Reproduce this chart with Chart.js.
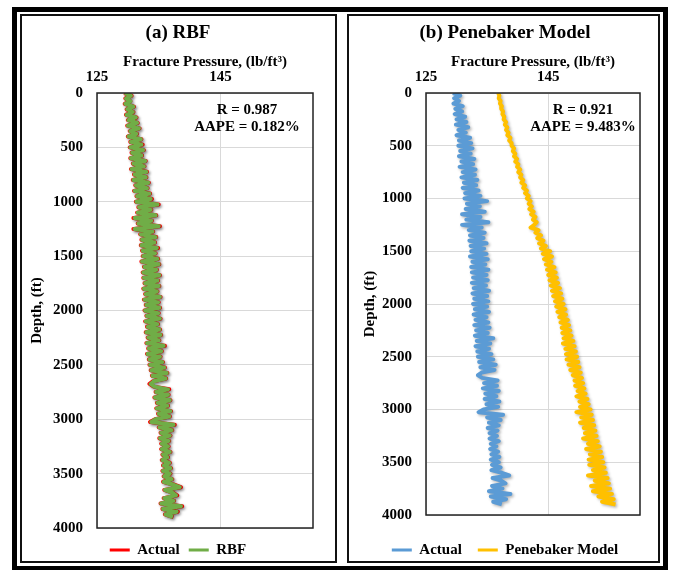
<!DOCTYPE html>
<html>
<head>
<meta charset="utf-8">
<script src="https://cdn.jsdelivr.net/npm/chart.js@4.4.1/dist/chart.umd.min.js"></script>
<style>
  html, body { margin: 0; padding: 0; background: #fff; width: 673px; height: 570px; overflow: hidden; }
  .frame { position: absolute; box-sizing: border-box; pointer-events: none; }
  #outer { left: 12px; top: 7px; width: 656px; height: 564px; border: 5px solid #000; }
  #boxA { left: 20px; top: 14px; width: 317px; height: 549px; border: 2px solid #111; }
  #boxB { left: 347px; top: 14px; width: 313px; height: 549px; border: 2px solid #111; }
  canvas { position: absolute; top: 0; }
  #chartA { left: 20px; }
  #chartB { left: 348px; }
</style>
</head>
<body>
<canvas id="chartA" width="316" height="570"></canvas>
<canvas id="chartB" width="311" height="570"></canvas>
<div class="frame" id="outer"></div>
<div class="frame" id="boxA"></div>
<div class="frame" id="boxB"></div>
<script>
Chart.defaults.font.family = "'Liberation Serif', 'Times New Roman', serif";
Chart.defaults.font.weight = 'bold';
Chart.defaults.color = '#000';

// depth, ft (one row = 250 ft)
var depth = [
  0, 25, 50, 75, 100, 125, 150, 175, 200, 225,
  250, 275, 300, 325, 350, 375, 400, 425, 450, 475,
  500, 525, 550, 575, 600, 625, 650, 675, 700, 725,
  750, 775, 800, 825, 850, 875, 900, 925, 950, 975,
  1000, 1025, 1050, 1075, 1100, 1125, 1150, 1175, 1200, 1225,
  1250, 1275, 1300, 1325, 1350, 1375, 1400, 1425, 1450, 1475,
  1500, 1525, 1550, 1575, 1600, 1625, 1650, 1675, 1700, 1725,
  1750, 1775, 1800, 1825, 1850, 1875, 1900, 1925, 1950, 1975,
  2000, 2025, 2050, 2075, 2100, 2125, 2150, 2175, 2200, 2225,
  2250, 2275, 2300, 2325, 2350, 2375, 2400, 2425, 2450, 2475,
  2500, 2525, 2550, 2575, 2600, 2625, 2650, 2675, 2700, 2725,
  2750, 2775, 2800, 2825, 2850, 2875, 2900, 2925, 2950, 2975,
  3000, 3025, 3050, 3075, 3100, 3125, 3150, 3175, 3200, 3225,
  3250, 3275, 3300, 3325, 3350, 3375, 3400, 3425, 3450, 3475,
  3500, 3525, 3550, 3575, 3600, 3625, 3650, 3675, 3700, 3725,
  3750, 3775, 3800, 3825, 3850, 3875, 3900
];
// fracture pressure, lb/ft3
var actual = [
  129.4, 130.6, 129.6, 130.4, 129.5, 131.0, 129.8, 130.9, 129.7, 131.4,
  130.0, 131.6, 129.9, 131.9, 130.3, 131.5, 130.0, 132.2, 130.4, 132.4,
  130.3, 132.6, 130.6, 132.3, 130.4, 132.9, 130.8, 132.7, 130.5, 133.1,
  131.0, 133.0, 130.8, 133.4, 131.2, 133.2, 131.0, 133.6, 131.4, 133.9,
  131.3, 135.0, 131.7, 133.8, 131.5, 134.6, 130.9, 133.9, 131.6, 135.2,
  130.9, 134.1, 132.0, 134.6, 132.2, 134.4, 132.1, 134.9, 132.3, 134.5,
  132.4, 134.9, 132.2, 135.1, 132.6, 134.7, 132.4, 135.2, 132.5, 134.9,
  132.7, 135.1, 132.5, 134.8, 132.8, 135.3, 132.6, 135.0, 132.9, 135.2,
  132.7, 135.0, 133.0, 135.3, 132.8, 134.9, 133.1, 135.2, 132.9, 135.4,
  133.2, 135.1, 133.0, 136.0, 133.3, 135.5, 133.1, 135.3, 133.4, 135.7,
  133.5, 136.0, 133.7, 136.4, 133.9, 136.2, 134.1, 133.5, 134.2, 136.7,
  134.5, 136.6, 134.3, 136.9, 134.7, 136.5, 134.6, 137.0, 134.9, 136.8,
  134.4, 133.6, 137.6, 135.0, 137.2, 135.3, 136.9, 135.1, 136.7, 135.4,
  136.6, 135.4, 136.9, 135.6, 136.5, 135.5, 136.8, 135.7, 137.0, 135.6,
  136.9, 135.8, 137.2, 135.7, 137.4, 138.6, 135.9, 137.3, 138.0, 135.8,
  137.5, 135.3, 138.8, 135.6, 138.1, 136.0, 137.4
];
var rbf = [
  129.5, 130.5, 129.7, 130.4, 129.6, 130.9, 129.9, 130.8, 129.8, 131.3,
  130.1, 131.5, 130.0, 131.8, 130.4, 131.4, 130.1, 132.1, 130.5, 132.2,
  130.4, 132.5, 130.7, 132.2, 130.5, 132.8, 130.9, 132.6, 130.6, 133.0,
  131.1, 132.9, 130.9, 133.3, 131.3, 133.1, 131.1, 133.5, 131.5, 133.7,
  131.4, 134.8, 131.8, 133.7, 131.6, 134.5, 131.1, 133.8, 131.7, 135.0,
  131.1, 134.0, 132.1, 134.5, 132.3, 134.3, 132.2, 134.7, 132.4, 134.4,
  132.5, 134.8, 132.3, 135.0, 132.7, 134.6, 132.5, 135.1, 132.6, 134.8,
  132.8, 135.0, 132.6, 134.7, 132.9, 135.2, 132.7, 134.9, 133.0, 135.1,
  132.8, 134.9, 133.1, 135.2, 132.9, 134.8, 133.2, 135.1, 133.0, 135.3,
  133.3, 135.0, 133.1, 135.8, 133.4, 135.4, 133.2, 135.2, 133.5, 135.6,
  133.6, 135.9, 133.8, 136.3, 134.0, 136.1, 134.2, 133.7, 134.3, 136.5,
  134.6, 136.5, 134.4, 136.8, 134.8, 136.4, 134.7, 136.9, 135.0, 136.7,
  134.5, 133.8, 137.4, 135.1, 137.1, 135.4, 136.8, 135.2, 136.6, 135.5,
  136.5, 135.5, 136.8, 135.7, 136.4, 135.6, 136.7, 135.8, 136.9, 135.7,
  136.8, 135.9, 137.1, 135.8, 137.3, 138.4, 136.0, 137.2, 137.8, 135.9,
  137.4, 135.4, 138.6, 135.7, 137.9, 136.1, 137.3
];
var penebaker = [
  136.8, 137.0, 136.9, 137.2, 137.1, 137.4, 137.3, 137.6, 137.5, 137.8,
  137.7, 138.1, 137.9, 138.3, 138.1, 138.5, 138.3, 138.8, 138.6, 139.0,
  139.0, 139.4, 139.2, 139.6, 139.4, 139.9, 139.6, 140.1, 139.9, 140.4,
  140.1, 140.6, 140.4, 140.9, 140.6, 141.2, 140.9, 141.5, 141.2, 141.8,
  141.5, 142.1, 141.8, 142.3, 141.9, 142.6, 142.2, 142.9, 142.5, 143.1,
  142.7, 142.1, 143.4, 142.9, 143.8, 143.2, 144.2, 143.5, 144.6, 143.8,
  145.3, 144.1, 145.6, 144.3, 145.5, 144.6, 146.0, 144.8, 146.2, 145.0,
  146.4, 145.2, 146.6, 145.4, 146.9, 145.6, 147.1, 145.8, 147.3, 146.1,
  147.5, 146.3, 147.8, 146.5, 147.9, 146.8, 148.2, 147.0, 148.4, 147.2,
  148.6, 147.3, 148.8, 147.5, 149.1, 147.4, 149.3, 147.8, 149.5, 147.9,
  149.7, 148.0, 149.9, 148.3, 150.1, 148.6, 150.3, 149.0, 150.5, 149.3,
  150.7, 149.4, 150.9, 149.8, 151.1, 149.6, 151.4, 150.1, 151.6, 150.2,
  151.9, 149.6, 152.1, 150.4, 152.3, 150.2, 152.5, 150.8, 152.7, 151.0,
  152.9, 150.7, 153.1, 151.5, 153.4, 151.2, 153.6, 151.8, 153.8, 151.6,
  154.0, 151.7, 154.2, 152.3, 154.4, 151.5, 154.7, 152.6, 154.9, 152.0,
  155.1, 152.3, 155.4, 153.2, 155.7, 153.8, 156.0
];
var pressureTicks = [125, 145];
var statsRBF = ['R = 0.987', 'AAPE = 0.182%'];
var statsPenebaker = ['R = 0.921', 'AAPE = 9.483%'];

function toPoints(values) {
  return values.map(function (v, i) { return { x: v, y: depth[i] }; });
}

function series(label, values, color, order) {
  return {
    label: label,
    data: toPoints(values),
    borderColor: color,
    backgroundColor: color,
    showLine: true,
    pointRadius: 0,
    borderWidth: 4,
    borderJoinStyle: 'round',
    tension: 0,
    order: order
  };
}

// soft shadow under the traces, like the office chart
var traceShadow = {
  id: 'traceShadow',
  beforeDatasetDraw: function (chart) {
    var ctx = chart.ctx;
    ctx.save();
    ctx.shadowColor = 'rgba(0,0,0,0.3)';
    ctx.shadowBlur = 3;
    ctx.shadowOffsetX = 1.5;
    ctx.shadowOffsetY = 1.5;
  },
  afterDatasetDraw: function (chart) {
    chart.ctx.restore();
  }
};

// box round the plot area and the R / AAPE note
var plotBox = {
  id: 'plotBox',
  afterDatasetsDraw: function (chart, args, opts) {
    var a = chart.chartArea, ctx = chart.ctx;
    ctx.save();
    ctx.strokeStyle = '#222';
    ctx.lineWidth = 1.5;
    ctx.strokeRect(a.left, a.top, a.right - a.left, a.bottom - a.top);
    ctx.font = "bold 15px 'Liberation Serif', serif";
    ctx.fillStyle = '#000';
    ctx.textAlign = 'center';
    ctx.textBaseline = 'middle';
    opts.lines.forEach(function (t, i) {
      ctx.fillText(t, a.left + opts.x, a.top + opts.y + i * 17);
    });
    ctx.restore();
  }
};

function plainTick(v) { return String(v); }

function depthChart(id, cfg) {
  return new Chart(document.getElementById(id), {
    type: 'scatter',
    data: { datasets: cfg.datasets },
    options: {
      responsive: false,
      animation: false,
      devicePixelRatio: 1,
      layout: { padding: cfg.padding },
      scales: {
        x: {
          position: 'top',
          min: 125,
          max: 160,
          afterBuildTicks: function (s) {
            s.ticks = pressureTicks.map(function (v) { return { value: v }; });
          },
          afterFit: function (s) { s.height = 48.6; },
          grid: { color: '#d9d9d9', drawTicks: false },
          border: { display: false },
          ticks: { padding: 7, font: { size: 15 }, callback: plainTick },
          title: {
            display: true,
            text: 'Fracture Pressure, (lb/ft³)',
            font: { size: 15 },
            padding: { top: 8.6, bottom: 0 }
          }
        },
        y: {
          reverse: true,
          min: 0,
          max: 4000,
          afterFit: function (s) { s.width = cfg.yWidth; },
          grid: { color: '#d9d9d9', drawTicks: false },
          border: { display: false },
          ticks: { stepSize: 500, padding: 14, font: { size: 15 }, callback: plainTick },
          title: {
            display: true,
            text: 'Depth, (ft)',
            font: { size: 15 },
            padding: { top: cfg.yTitlePad, bottom: 0 }
          }
        }
      },
      plugins: {
        title: {
          display: true,
          text: cfg.title,
          font: { size: 19 },
          padding: { top: 21.6, bottom: 0 }
        },
        legend: {
          position: 'bottom',
          title: { display: true, text: '', font: { size: 2 }, padding: { top: cfg.legendTitlePad, bottom: 0 } },
          labels: {
            usePointStyle: true,
            pointStyle: 'line',
            pointStyleWidth: 20,
            padding: cfg.legendGap,
            font: { size: 15 },
            generateLabels: function (chart) {
              var items = Chart.defaults.plugins.legend.labels.generateLabels(chart);
              items.forEach(function (it) { it.lineWidth = 3; });
              return items;
            },
            sort: function (a, b) { return a.datasetIndex - b.datasetIndex; }
          }
        },
        tooltip: { enabled: false },
        plotBox: { lines: cfg.stats, x: cfg.statsX, y: 17 }
      }
    },
    plugins: [traceShadow, plotBox]
  });
}

depthChart('chartA', {
  title: '(a) RBF',
  datasets: [
    series('Actual', actual, '#FF0000', 2),
    series('RBF', rbf, '#70AD47', 1)
  ],
  padding: { top: 0, left: 23, right: 23, bottom: 2.5 },
  yWidth: 54,
  yTitlePad: -15,
  legendGap: 9,
  legendTitlePad: 3.1,
  stats: statsRBF,
  statsX: 150
});

depthChart('chartB', {
  title: '(b) Penebaker Model',
  datasets: [
    series('Actual', actual, '#5B9BD5', 1),
    series('Penebaker Model', penebaker, '#FFC000', 2)
  ],
  padding: { top: 0, left: 22, right: 19, bottom: 2.5 },
  yWidth: 56,
  yTitlePad: -9,
  legendGap: 16,
  legendTitlePad: 9.1,
  stats: statsPenebaker,
  statsX: 157
});
</script>
</body>
</html>
